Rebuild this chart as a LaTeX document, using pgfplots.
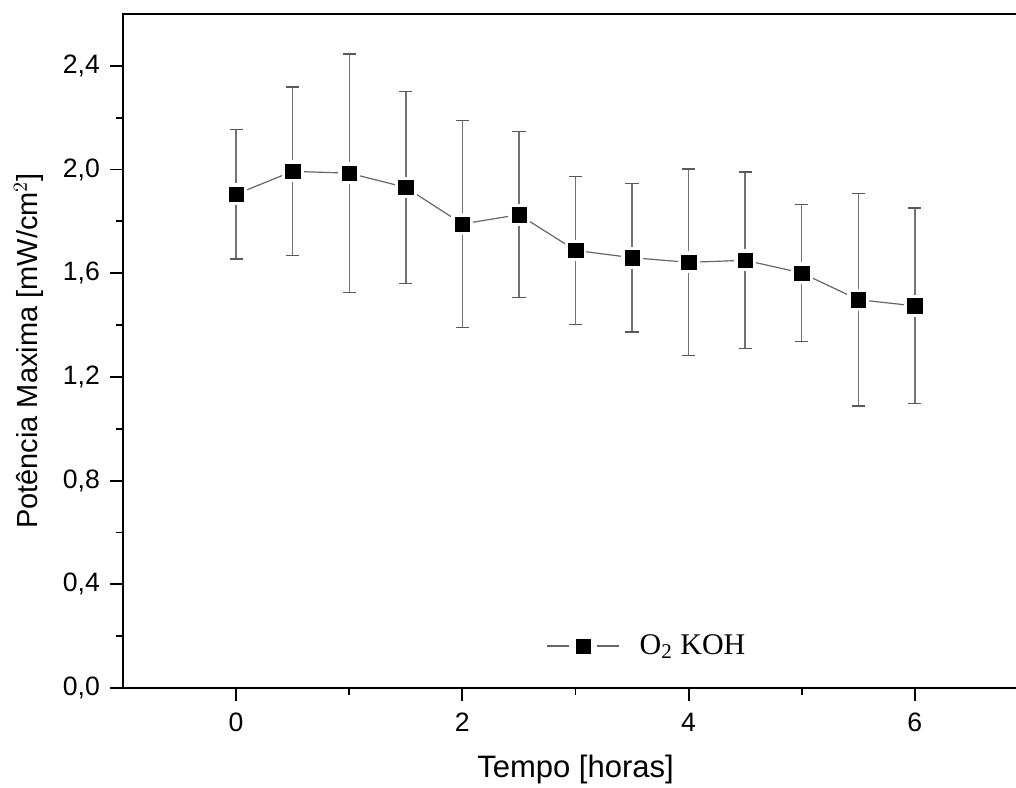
\documentclass[border=0pt]{standalone}
\usepackage{pgfplots}
\pgfplotsset{compat=1.18}
\usepackage{fontspec}
\setmainfont{Liberation Sans}
\newfontfamily\timesfont{Liberation Serif}
\begin{document}
\begin{tikzpicture}
\begin{axis}[
  name=ax,
  scale only axis,
  width=452.5pt, height=337pt,
  xmin=-1, xmax=7, ymin=0, ymax=2.6,
  xtick={0,2,4,6}, minor x tick num=1,
  ytick={0,0.4,0.8,1.2,1.6,2.0,2.4}, minor y tick num=1,
  xtick pos=bottom, ytick pos=left,
  tick align=outside,
  major tick length=6.5pt, minor tick length=3.5pt,
  every tick/.style={black, line width=0.9pt},
  axis line style={line width=1pt},
  /pgf/number format/assume math mode=true,
  tick label style={font=\fontsize{13.3}{15}\selectfont},
  xticklabel style={yshift=-2.5pt},
  yticklabel style={xshift=-1.5pt, /pgf/number format/.cd, fixed, fixed zerofill, precision=1, use comma},
  xlabel style={font=\fontsize{15.5}{17}\selectfont},
  ylabel style={font=\fontsize{14.5}{16}\selectfont},
  xlabel shift=4.5pt,
  ylabel shift=3pt,
  xlabel={Tempo [horas]},
  ylabel={Potência Maxima [mW/cm$^2$]},
  legend style={draw=none, fill=none, inner sep=0pt, at={(axis cs:2.74,0.162)}, anchor=west,
     font=\fontsize{15}{17}\selectfont\timesfont,
     /tikz/every odd column/.append style={column sep=8pt}},
  legend image code/.code={
     \draw[black!60, line width=0.6pt] (0pt,0pt) -- (11pt,0pt);
     \draw[black!60, line width=0.6pt] (25pt,0pt) -- (36pt,0pt);
     \fill[black] (14.5pt,-3.5pt) rectangle (21.5pt,3.5pt);
  },
]
% connecting line with white halo around the markers
\addplot[black!60, line width=0.6pt, mark=square*, mark size=5.2pt,
  mark options={draw=white, fill=white, line width=0pt}, forget plot]
coordinates {
(0,1.905) (0.5,1.993) (1,1.986) (1.5,1.931) (2,1.790) (2.5,1.826) (3,1.688)
(3.5,1.660) (4,1.642) (4.5,1.650) (5,1.601) (5.5,1.498) (6,1.474)
};
% error bars and markers
\addplot[only marks, mark=square*, mark size=3.6pt,
  mark options={fill=black, draw=black, line width=0.2pt},
  error bars/.cd, y dir=both, y explicit,
  error bar style={black!55, line width=0.7pt},
  error mark options={rotate=90, mark size=3.3pt, black!65, line width=0.7pt}]
coordinates {
(0,1.905) +- (0,0.250)
(0.5,1.993) +- (0,0.325)
(1,1.986) +- (0,0.460)
(1.5,1.931) +- (0,0.370)
(2,1.790) +- (0,0.400)
(2.5,1.826) +- (0,0.320)
(3,1.688) +- (0,0.285)
(3.5,1.660) +- (0,0.287)
(4,1.642) +- (0,0.360)
(4.5,1.650) +- (0,0.340)
(5,1.601) +- (0,0.264)
(5.5,1.498) +- (0,0.410)
(6,1.474) +- (0,0.377)
};
\addlegendentry{O\textsubscript{2} KOH}
\end{axis}
\pgfresetboundingbox
\useasboundingbox ([xshift=-61.5pt,yshift=-49.5pt]ax.south west) rectangle ([xshift=-6pt,yshift=7pt]ax.north east);
\end{tikzpicture}
\end{document}
